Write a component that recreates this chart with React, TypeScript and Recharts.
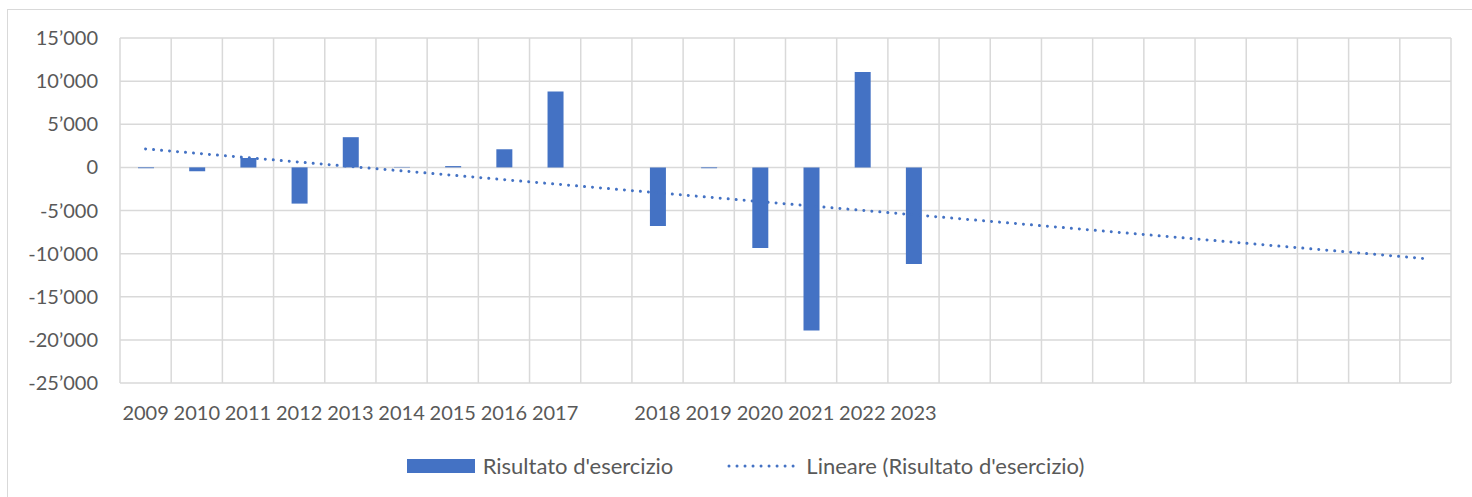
import React from "react";
import {
  ComposedChart,
  Bar,
  Line,
  XAxis,
  YAxis,
  CartesianGrid,
  Legend,
} from "recharts";

// tick labels on the x axis (empty slots are real categories in the original)
const yearLabels = [
  "2009", "2010", "2011", "2012", "2013", "2014", "2015", "2016", "2017", "",
  "2018", "2019", "2020", "2021", "2022", "2023",
  "", "", "", "", "", "", "", "", "", "",
];

const risultato = [
  -100, -450, 1100, -4200, 3500, 50, 150, 2100, 8800, null,
  -6800, -100, -9350, -18900, 11050, -11200,
  null, null, null, null, null, null, null, null, null, null,
];

// trendline: only its two ends, the line joins them
const lineare = [
  2140, null, null, null, null, null, null, null, null, null,
  null, null, null, null, null, null,
  null, null, null, null, null, null, null, null, null, -10580,
];

const yTicks = [-25000, -20000, -15000, -10000, -5000, 0, 5000, 10000, 15000];

const data = yearLabels.map((label, i) => ({
  idx: i,
  label,
  risultato: risultato[i],
  lineare: lineare[i],
}));

const BLUE = "#4472C4";
const GRID = "#d9d9d9";
const TEXT = "#595959";
const FONT = "Lato, 'Open Sans', sans-serif";

const fmt = (v: number) => {
  const s = Math.abs(v).toString().replace(/\B(?=(\d{3})+(?!\d))/g, "\u2019");
  return v < 0 ? "-" + s : s;
};

const renderLegend = (props: any) => {
  // bar first, then trendline, like the original
  const payload = [...(props.payload || [])].sort(
    (a: any, b: any) => (a.type === "rect" ? 0 : 1) - (b.type === "rect" ? 0 : 1)
  );
  return (
    <div
      style={{
        display: "flex",
        justifyContent: "center",
        alignItems: "center",
        fontFamily: FONT,
        fontSize: 22,
        color: TEXT,
        paddingLeft: 40,
      }}
    >
      {payload.map((entry: any, i: number) => (
        <div key={`leg-${i}`} style={{ display: "flex", alignItems: "center", marginLeft: i === 0 ? 0 : 54 }}>
          {entry.type === "rect" ? (
            <span style={{ display: "inline-block", width: 68, height: 14, background: BLUE, marginRight: 8 }} />
          ) : (
            <svg width={70} height={6} style={{ marginRight: 9 }}>
              <line
                x1={2}
                y1={3}
                x2={68}
                y2={3}
                stroke={BLUE}
                strokeWidth={3}
                strokeLinecap="round"
                strokeDasharray="0.01 8"
              />
            </svg>
          )}
          <span>{entry.value}</span>
        </div>
      ))}
    </div>
  );
};

export default function App() {
  return (
    <div style={{ position: "relative", width: 1472, height: 497 }}>
      <style>{`body{margin:0;overflow:hidden;}`}</style>
      <div
        style={{
          position: "absolute",
          left: 7,
          top: 9,
          width: 1490,
          height: 500,
          border: `1px solid ${GRID}`,
          boxSizing: "border-box",
        }}
      />
      <div style={{ position: "absolute", left: 0, top: 0 }}>
        <ComposedChart
          width={1472}
          height={497}
          data={data}
          margin={{ top: 38, right: 21, bottom: 18, left: 0 }}
        >
          <CartesianGrid
            stroke={GRID}
            strokeWidth={1.5}
            verticalCoordinatesGenerator={({ offset }: any) =>
              Array.from({ length: yearLabels.length + 1 }, (_, i) => offset.left + (i * offset.width) / yearLabels.length)
            }
          />
          <XAxis
            dataKey="idx"
            type="category"
            interval={0}
            tickFormatter={(i: number) => yearLabels[i]}
            axisLine={false}
            tickLine={false}
            tickSize={0}
            tickMargin={23}
            height={69}
            tick={{ fill: TEXT, fontSize: 20, fontFamily: FONT }}
          />
          <YAxis
            domain={[-25000, 15000]}
            ticks={yTicks}
            tickFormatter={fmt}
            axisLine={false}
            tickLine={false}
            tickSize={0}
            tickMargin={22}
            width={120}
            tick={{ fill: TEXT, fontSize: 20, fontFamily: FONT }}
          />
          <Legend verticalAlign="bottom" content={renderLegend} />
          <Bar
            dataKey="risultato"
            name="Risultato d'esercizio"
            fill={BLUE}
            barSize={16}
            legendType="rect"
            isAnimationActive={false}
          />
          <Line
            dataKey="lineare"
            name="Lineare (Risultato d'esercizio)"
            type="linear"
            stroke={BLUE}
            strokeWidth={3}
            strokeLinecap="round"
            strokeDasharray="0.01 8"
            dot={false}
            activeDot={false}
            connectNulls
            legendType="line"
            isAnimationActive={false}
          />
        </ComposedChart>
      </div>
    </div>
  );
}
